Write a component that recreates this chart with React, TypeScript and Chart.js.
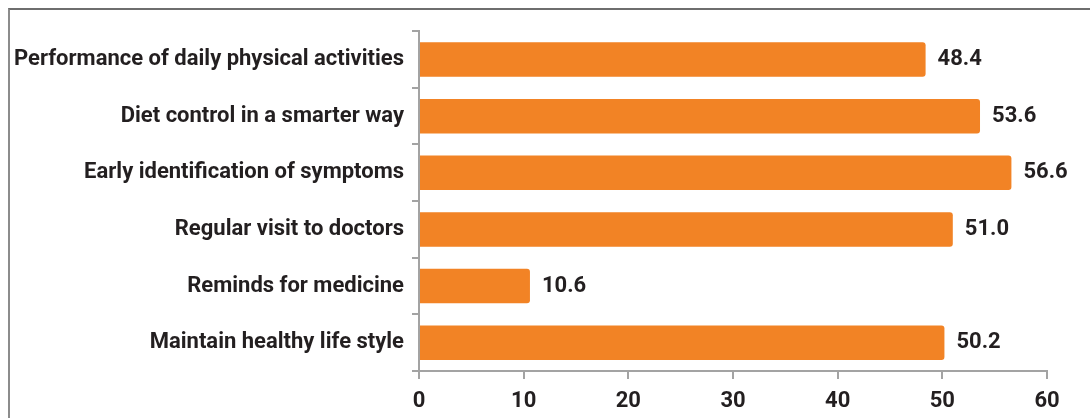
import { useEffect, useRef } from 'react';
import { Chart, registerables } from 'chart.js';

Chart.register(...registerables);

const categories = [
  'Performance of daily physical activities',
  'Diet control in a smarter way',
  'Early identification of symptoms',
  'Regular visit to doctors',
  'Reminds for medicine',
  'Maintain healthy life style',
];
const values = [48.4, 53.6, 56.6, 51.0, 10.6, 50.2];
const xMin = 0;
const xMax = 60;
const xStep = 10;

const FONT = 'Roboto, "Open Sans", sans-serif';
const TEXT = '#231f20';
const BAR = '#f28325';
const AXIS = '#a3a3a3';

const valueLabelPlugin = {
  id: 'valueLabels',
  afterDatasetsDraw(chart: any) {
    const ctx = chart.ctx;
    const meta = chart.getDatasetMeta(0);
    ctx.save();
    ctx.font = `bold 22px ${FONT}`;
    ctx.fillStyle = TEXT;
    ctx.textBaseline = 'middle';
    ctx.textAlign = 'left';
    meta.data.forEach((bar: any, i: number) => {
      ctx.fillText(values[i].toFixed(1), bar.x + 12, bar.y);
    });
    ctx.restore();
  },
};

export default function App() {
  const ref = useRef<HTMLCanvasElement>(null);
  useEffect(() => {
    if (!ref.current) return;
    const chart = new Chart(ref.current, {
      type: 'bar',
      data: {
        labels: categories,
        datasets: [
          {
            data: values,
            backgroundColor: BAR,
            borderRadius: 3,
            barPercentage: 0.61,
            categoryPercentage: 1,
          },
        ],
      },
      options: {
        indexAxis: 'y',
        animation: false,
        responsive: true,
        maintainAspectRatio: false,
        layout: { padding: { top: 16, right: 43, left: 0, bottom: 0 } },
        plugins: { legend: { display: false }, tooltip: { enabled: false } },
        scales: {
          y: {
            type: 'category',
            afterFit: (s: any) => {
              s.width = 409;
            },
            grid: { drawOnChartArea: false, drawTicks: true, tickLength: 7, color: AXIS, lineWidth: 2 },
            border: { color: AXIS, width: 2 },
            ticks: { font: { family: FONT, size: 22, weight: 'bold' }, color: TEXT, padding: 8 },
          },
          x: {
            type: 'linear',
            min: xMin,
            max: xMax,
            afterFit: (s: any) => {
              s.height = 47;
            },
            grid: { drawOnChartArea: false, drawTicks: true, tickLength: 8, color: AXIS, lineWidth: 2 },
            border: { color: AXIS, width: 2 },
            ticks: { stepSize: xStep, font: { family: FONT, size: 22, weight: 'bold' }, color: TEXT, padding: 9 },
          },
        },
      },
      plugins: [valueLabelPlugin],
    } as any);
    return () => chart.destroy();
  }, []);

  return (
    <div
      style={{
        position: 'fixed',
        left: 8,
        top: 8,
        width: 1082,
        height: 410,
        boxSizing: 'border-box',
        borderTop: '2px solid #6e6e6e',
        borderLeft: '2px solid #8c8c8c',
        background: '#fff',
      }}
    >
      <div style={{ position: 'relative', width: 1080, height: 408 }}>
        <canvas ref={ref} />
      </div>
    </div>
  );
}
